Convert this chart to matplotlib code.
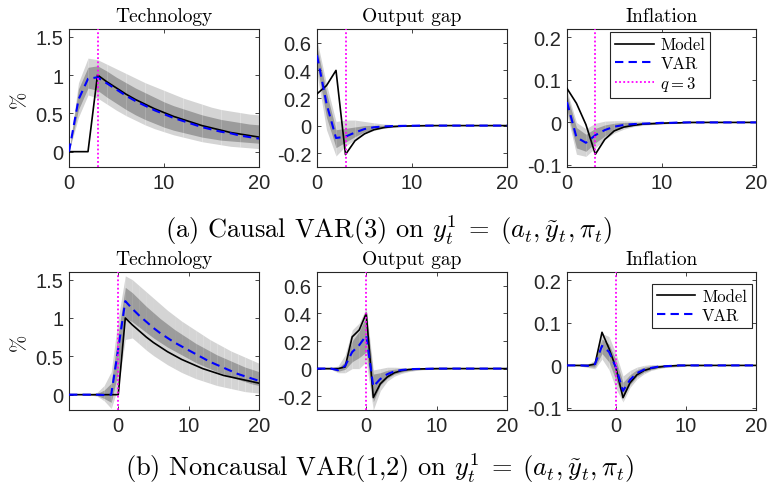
import matplotlib
matplotlib.use("Agg")
import matplotlib.pyplot as plt
import numpy as np

# ---------------- data ----------------
h_a = list(range(0, 21))
h_b = list(range(-7, 21))

# Causal VAR(3): Technology
tech_a_model = [0, 0, 0, 1.00, 0.91, 0.83, 0.75, 0.68, 0.62, 0.56, 0.51, 0.46, 0.42, 0.38, 0.34, 0.31, 0.28, 0.25, 0.23, 0.21, 0.19]
tech_a_var = [0, 0.68, 0.95, 0.97, 0.89, 0.81, 0.73, 0.66, 0.60, 0.54, 0.49, 0.44, 0.40, 0.36, 0.32, 0.29, 0.26, 0.24, 0.21, 0.19, 0.17]
tech_a_lo90 = [0, 0.45, 0.74, 0.70, 0.62, 0.54, 0.47, 0.41, 0.35, 0.30, 0.26, 0.22, 0.19, 0.16, 0.13, 0.11, 0.09, 0.07, 0.06, 0.05, 0.04]
tech_a_lo68 = [0, 0.55, 0.83, 0.80, 0.71, 0.63, 0.55, 0.48, 0.42, 0.37, 0.32, 0.28, 0.25, 0.22, 0.19, 0.17, 0.15, 0.14, 0.13, 0.12, 0.11]
tech_a_hi68 = [0, 0.82, 1.10, 1.12, 1.05, 0.97, 0.90, 0.83, 0.77, 0.71, 0.65, 0.60, 0.56, 0.52, 0.48, 0.45, 0.42, 0.40, 0.38, 0.36, 0.35]
tech_a_hi90 = [0, 0.90, 1.22, 1.20, 1.14, 1.08, 1.02, 0.96, 0.90, 0.85, 0.80, 0.75, 0.70, 0.66, 0.62, 0.58, 0.55, 0.53, 0.51, 0.49, 0.48]

# Causal VAR(3): Output gap
gap_a_model = [0.23, 0.29, 0.40, -0.21, -0.11, -0.06, -0.03, -0.015, -0.007, -0.004, -0.002, -0.001, 0, 0, 0, 0, 0, 0, 0, 0, 0]
gap_a_var = [0.51, 0.16, -0.09, -0.08, -0.05, -0.025, -0.012, -0.006, -0.003, -0.002, -0.001, 0, 0, 0, 0, 0, 0, 0, 0, 0, 0]
gap_a_lo90 = [0.38, -0.03, -0.22, -0.15, -0.10, -0.06, -0.035, -0.02, -0.012, -0.008, -0.005, -0.003, -0.002, -0.001, -0.001, -0.001, -0.001, -0.001, -0.001, -0.001, -0.001]
gap_a_lo68 = [0.44, 0.06, -0.16, -0.12, -0.08, -0.045, -0.025, -0.014, -0.008, -0.005, -0.003, -0.002, -0.001, -0.001, 0, 0, 0, 0, 0, 0, 0]
gap_a_hi68 = [0.57, 0.24, -0.03, -0.02, -0.01, 0.0, 0.002, 0.002, 0.002, 0.001, 0.001, 0.001, 0, 0, 0, 0, 0, 0, 0, 0, 0]
gap_a_hi90 = [0.62, 0.30, 0.03, 0.04, 0.04, 0.03, 0.02, 0.012, 0.008, 0.005, 0.003, 0.002, 0.001, 0.001, 0.001, 0.001, 0.001, 0.001, 0.001, 0.001, 0.001]

# Causal VAR(3): Inflation
inf_a_model = [0.08, 0.045, -0.005, -0.075, -0.04, -0.02, -0.011, -0.007, -0.004, -0.003, -0.002, -0.001, -0.001, 0, 0, 0, 0, 0, 0, 0, 0]
inf_a_var = [0.048, -0.035, -0.048, -0.03, -0.018, -0.01, -0.006, -0.004, -0.003, -0.002, -0.001, -0.001, 0, 0, 0, 0, 0, 0, 0, 0, 0]
inf_a_lo90 = [0.02, -0.075, -0.08, -0.06, -0.04, -0.025, -0.016, -0.01, -0.007, -0.005, -0.004, -0.003, -0.002, -0.002, -0.001, -0.001, -0.001, -0.001, -0.001, -0.001, -0.001]
inf_a_lo68 = [0.03, -0.06, -0.068, -0.048, -0.032, -0.019, -0.012, -0.008, -0.005, -0.004, -0.003, -0.002, -0.001, -0.001, -0.001, 0, 0, 0, 0, 0, 0]
inf_a_hi68 = [0.065, -0.012, -0.028, -0.014, -0.006, -0.002, 0.0, 0.0, 0.0, 0.0, 0.0, 0.0, 0.0, 0, 0, 0, 0, 0, 0, 0, 0]
inf_a_hi90 = [0.075, 0.0, -0.015, -0.002, 0.003, 0.004, 0.004, 0.003, 0.003, 0.002, 0.002, 0.001, 0.001, 0.001, 0.001, 0.001, 0.001, 0.001, 0.001, 0.001, 0.001]

# Noncausal VAR(1,2): Technology
tech_b_model = [0, 0, 0, 0, 0, 0, 0, 0, 1.00, 0.91, 0.83, 0.75, 0.68, 0.62, 0.56, 0.51, 0.46, 0.42, 0.38, 0.34, 0.31, 0.28, 0.25, 0.23, 0.21, 0.19, 0.17, 0.15]
tech_b_var = [0, 0, 0, 0, 0, -0.005, 0.0, 0.60, 1.22, 1.12, 1.03, 0.95, 0.87, 0.80, 0.74, 0.68, 0.63, 0.58, 0.53, 0.48, 0.43, 0.39, 0.35, 0.31, 0.27, 0.24, 0.21, 0.18]
tech_b_lo90 = [0, 0, 0, -0.005, -0.02, -0.08, -0.18, 0.10, 0.72, 0.74, 0.66, 0.58, 0.51, 0.45, 0.39, 0.34, 0.29, 0.25, 0.21, 0.18, 0.15, 0.12, 0.10, 0.08, 0.06, 0.04, 0.03, 0.02]
tech_b_lo68 = [0, 0, 0, -0.002, -0.01, -0.05, -0.10, 0.30, 1.00, 0.95, 0.88, 0.81, 0.74, 0.68, 0.62, 0.57, 0.52, 0.47, 0.42, 0.38, 0.34, 0.30, 0.27, 0.23, 0.20, 0.17, 0.14, 0.12]
tech_b_hi68 = [0, 0, 0, 0.002, 0.015, 0.06, 0.15, 0.80, 1.40, 1.33, 1.24, 1.15, 1.07, 0.99, 0.92, 0.85, 0.79, 0.73, 0.67, 0.62, 0.57, 0.52, 0.48, 0.44, 0.40, 0.36, 0.33, 0.30]
tech_b_hi90 = [0, 0, 0, 0.005, 0.03, 0.12, 0.30, 1.00, 1.55, 1.50, 1.42, 1.34, 1.26, 1.18, 1.10, 1.03, 0.96, 0.90, 0.84, 0.78, 0.72, 0.67, 0.62, 0.57, 0.53, 0.49, 0.45, 0.41]

# Noncausal VAR(1,2): Output gap
gap_b_model = [0, 0, 0, 0, 0.012, 0.23, 0.28, 0.40, -0.21, -0.11, -0.06, -0.03, -0.015, -0.007, -0.003, -0.002, -0.001, 0, 0, 0, 0, 0, 0, 0, 0, 0, 0, 0]
gap_b_var = [0, 0, 0, -0.012, 0.02, 0.12, 0.17, 0.24, -0.13, -0.075, -0.04, -0.02, -0.01, -0.005, -0.003, -0.002, -0.001, 0, 0, 0, 0, 0, 0, 0, 0, 0, 0, 0]
gap_b_lo90 = [-0.002, -0.003, -0.005, -0.03, -0.03, 0.0, 0.0, 0.05, -0.30, -0.16, -0.09, -0.055, -0.035, -0.022, -0.014, -0.009, -0.006, -0.004, -0.003, -0.002, -0.002, -0.001, -0.001, -0.001, -0.001, -0.001, -0.001, -0.001]
gap_b_lo68 = [-0.001, -0.002, -0.003, -0.02, -0.005, 0.05, 0.08, 0.12, -0.24, -0.12, -0.07, -0.04, -0.025, -0.015, -0.009, -0.006, -0.004, -0.003, -0.002, -0.001, -0.001, -0.001, 0, 0, 0, 0, 0, 0]
gap_b_hi68 = [0.001, 0.002, 0.003, 0.005, 0.05, 0.20, 0.27, 0.38, -0.04, -0.03, -0.012, -0.004, 0.0, 0.001, 0.001, 0.001, 0.001, 0.001, 0.001, 0, 0, 0, 0, 0, 0, 0, 0, 0]
gap_b_hi90 = [0.002, 0.003, 0.005, 0.02, 0.10, 0.28, 0.33, 0.44, -0.01, 0.0, 0.01, 0.01, 0.008, 0.006, 0.004, 0.003, 0.002, 0.002, 0.001, 0.001, 0.001, 0.001, 0.001, 0.001, 0.001, 0.001, 0.001, 0.001]

# Noncausal VAR(1,2): Inflation
inf_b_model = [0, 0, 0, 0, 0.003, 0.078, 0.04, -0.006, -0.076, -0.041, -0.022, -0.012, -0.007, -0.004, -0.002, -0.001, 0, 0, 0, 0, 0, 0, 0, 0, 0, 0, 0, 0]
inf_b_var = [0, 0, 0, -0.001, 0.003, 0.046, 0.032, -0.005, -0.06, -0.034, -0.018, -0.01, -0.006, -0.003, -0.002, -0.001, 0, 0, 0, 0, 0, 0, 0, 0, 0, 0, 0, 0]
inf_b_lo90 = [-0.001, -0.001, -0.002, -0.005, -0.008, 0.015, -0.01, -0.055, -0.086, -0.052, -0.032, -0.02, -0.012, -0.008, -0.005, -0.004, -0.003, -0.002, -0.002, -0.001, -0.001, -0.001, -0.001, -0.001, -0.001, -0.001, -0.001, -0.001]
inf_b_lo68 = [-0.001, -0.001, -0.001, -0.003, -0.004, 0.028, 0.008, -0.035, -0.075, -0.045, -0.026, -0.016, -0.01, -0.006, -0.004, -0.003, -0.002, -0.001, -0.001, -0.001, 0, 0, 0, 0, 0, 0, 0, 0]
inf_b_hi68 = [0.001, 0.001, 0.001, 0.002, 0.008, 0.062, 0.05, 0.012, -0.04, -0.022, -0.01, -0.004, -0.001, 0.0, 0.0, 0.0, 0, 0, 0, 0, 0, 0, 0, 0, 0, 0, 0, 0]
inf_b_hi90 = [0.001, 0.001, 0.002, 0.004, 0.012, 0.075, 0.068, 0.028, -0.025, -0.012, -0.004, 0.0, 0.002, 0.002, 0.002, 0.001, 0.001, 0.001, 0.001, 0.001, 0.001, 0.001, 0.001, 0.001, 0.001, 0.001, 0.001, 0.001]

titles = ["Technology", "Output gap", "Inflation"]
ylims = [(-0.2, 1.6), (-0.3, 0.7), (-0.105, 0.22)]
yticks = [[0, 0.5, 1, 1.5], [-0.2, 0, 0.2, 0.4, 0.6], [-0.1, 0, 0.1, 0.2]]
yticklabels = [["0", "0.5", "1", "1.5"], ["-0.2", "0", "0.2", "0.4", "0.6"], ["-0.1", "0", "0.1", "0.2"]]
xticks = [0, 10, 20]
shock_a = 3
shock_b = 0
caption_a = r"(a) Causal VAR(3) on $y_t^1\;=\;(a_t, \tilde{y}_t, \pi_t)$"
caption_b = r"(b) Noncausal VAR(1,2) on $y_t^1\;=\;(a_t, \tilde{y}_t, \pi_t)$"

# ---------------- style ----------------
plt.rcParams["mathtext.fontset"] = "cm"
plt.rcParams["axes.unicode_minus"] = False
SERIF = ["cmr10", "DejaVu Serif"]
SANS = ["Liberation Sans", "DejaVu Sans"]
AXC = "#262626"
LIGHT = "#d4d4d4"
DARK = "#9c9c9c"

W, H = 767, 489
fig = plt.figure(figsize=(W / 100, H / 100), dpi=100)

lefts = [69, 317, 567]
widths = [190, 190, 189]
rows = [(30, 168), (273, 411)]

panels_a = [
    (tech_a_model, tech_a_var, tech_a_lo90, tech_a_lo68, tech_a_hi68, tech_a_hi90),
    (gap_a_model, gap_a_var, gap_a_lo90, gap_a_lo68, gap_a_hi68, gap_a_hi90),
    (inf_a_model, inf_a_var, inf_a_lo90, inf_a_lo68, inf_a_hi68, inf_a_hi90),
]
panels_b = [
    (tech_b_model, tech_b_var, tech_b_lo90, tech_b_lo68, tech_b_hi68, tech_b_hi90),
    (gap_b_model, gap_b_var, gap_b_lo90, gap_b_lo68, gap_b_hi68, gap_b_hi90),
    (inf_b_model, inf_b_var, inf_b_lo90, inf_b_lo68, inf_b_hi68, inf_b_hi90),
]


def draw_band(ax, x, lo, hi, color):
    for i in range(len(x) - 1):
        ax.fill_between(x[i:i + 2], lo[i:i + 2], hi[i:i + 2], color=color,
                        linewidth=0, antialiased=True, zorder=1)


for r, (row_top, row_bot) in enumerate(rows):
    panels = panels_a if r == 0 else panels_b
    x = np.array(h_a if r == 0 else h_b)
    shock = shock_a if r == 0 else shock_b
    for c in range(3):
        ax = fig.add_axes([lefts[c] / W, 1 - row_bot / H, widths[c] / W, (row_bot - row_top) / H])
        model, var, lo90, lo68, hi68, hi90 = panels[c]
        draw_band(ax, x, lo90, hi90, LIGHT)
        draw_band(ax, x, lo68, hi68, DARK)
        l1, = ax.plot(x, model, color="black", lw=1.2, zorder=3, label="Model")
        l2, = ax.plot(x, var, color="#0000ff", lw=1.5, dashes=(4, 2.5), zorder=4, label="VAR")
        l3 = ax.axvline(shock, color="#ff00ff", lw=1.3, ls=(0, (1, 1.3)), zorder=5, label=r"$q=3$")
        ax.set_xlim(x[0], x[-1])
        ax.set_ylim(*ylims[c])
        ax.set_yticks(yticks[c])
        ax.set_yticklabels(yticklabels[c])
        ax.set_xticks(xticks)
        ax.set_xticklabels([str(t) for t in xticks])
        for lab in ax.get_xticklabels() + ax.get_yticklabels():
            lab.set_fontfamily(SANS)
            lab.set_fontsize(14.5)
            lab.set_color(AXC)
        ax.tick_params(direction="in", length=3, width=0.6, color=AXC,
                       top=True, right=True, pad=4)
        for s in ax.spines.values():
            s.set_color(AXC)
            s.set_linewidth(0.8)
        ax.set_title(titles[c], fontfamily=SERIF, fontsize=14, pad=6, color="black")
        if c == 0:
            ax.set_ylabel("%", fontfamily=SERIF, fontsize=15, labelpad=5)
        if c == 2:
            if r == 0:
                leg = ax.legend(handles=[l1, l2, l3], loc="upper right",
                                bbox_to_anchor=(0.757, 0.978), prop={"family": SERIF, "size": 12},
                                handlelength=2.3, handletextpad=0.4, borderpad=0.3,
                                labelspacing=0.2, borderaxespad=0, fancybox=False, framealpha=1,
                                edgecolor=AXC)
            else:
                leg = ax.legend(handles=[l1, l2], loc="upper right",
                                bbox_to_anchor=(0.979, 0.913), prop={"family": SERIF, "size": 12},
                                handlelength=2.3, handletextpad=0.4, borderpad=0.3,
                                labelspacing=0.2, borderaxespad=0, fancybox=False, framealpha=1,
                                edgecolor=AXC)
            leg.get_frame().set_linewidth(0.8)

fig.text(0.507, 1 - 230 / H, caption_a, ha="center", va="center", fontfamily=SERIF, fontsize=19)
fig.text(0.495, 1 - 468 / H, caption_b, ha="center", va="center", fontfamily=SERIF, fontsize=19)

fig.savefig("out.png", dpi=100)
